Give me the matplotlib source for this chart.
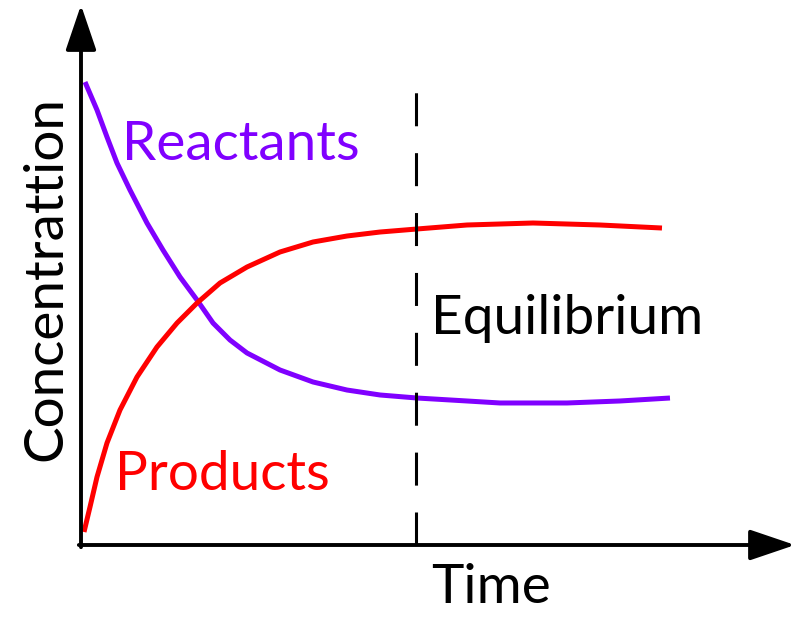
import matplotlib
matplotlib.use("Agg")
import matplotlib.pyplot as plt

# ---- data (time units, concentration units) ----
reactant_t = [0.056, 0.224, 0.364, 0.504, 0.686, 0.924, 1.148, 1.387, 1.625, 1.849, 2.087,
              2.325, 2.787, 3.249, 3.725, 4.188, 4.706, 5.406, 5.868, 6.807, 7.549, 8.249]
reactant_c = [8.574, 8.056, 7.556, 7.074, 6.574, 5.963, 5.463, 4.963, 4.537, 4.111, 3.796,
              3.556, 3.241, 3.019, 2.870, 2.778, 2.722, 2.667, 2.630, 2.630, 2.667, 2.722]

product_t = [0.042, 0.126, 0.224, 0.364, 0.546, 0.784, 1.064, 1.345, 1.625, 1.947, 2.325,
             2.787, 3.249, 3.725, 4.188, 4.706, 5.406, 6.331, 7.269, 8.137]
product_c = [0.241, 0.704, 1.259, 1.889, 2.500, 3.111, 3.667, 4.111, 4.481, 4.852, 5.148,
             5.426, 5.611, 5.722, 5.796, 5.852, 5.926, 5.963, 5.926, 5.870]

equilibrium_t = 4.69
equilibrium_top = 8.43

labels = {"reactants": "Reactants", "products": "Products",
          "equilibrium": "Equilibrium", "x": "Time", "y": "Concentrattion"}

PURPLE = "#8000ff"
RED = "#ff0000"
FONT = "Lato"

fig = plt.figure(figsize=(7.98, 6.42), dpi=100)
ax = fig.add_axes([81 / 798, 97 / 642, 717 / 798, 545 / 642])
ax.set_xlim(0, 717 / 71.4)
ax.set_ylim(0, 545 / 54)
ax.axis("off")

ax.plot(reactant_t, reactant_c, color=PURPLE, lw=3.6, solid_capstyle="butt",
        solid_joinstyle="round", clip_on=False)
ax.plot(product_t, product_c, color=RED, lw=3.6, solid_capstyle="butt",
        solid_joinstyle="round", clip_on=False)

ax.plot([equilibrium_t, equilibrium_t], [0, equilibrium_top], color="black",
        lw=2.2, linestyle=(0, (10.8, 8.8)), clip_on=False)

# axes with arrowheads
arrow = dict(arrowstyle="-|>,head_length=28,head_width=9.5", lw=2.8, color="black",
             shrinkA=0, shrinkB=0, mutation_scale=1)
ax.annotate("", xy=(10.0, 0), xytext=(-0.03, 0), arrowprops=arrow, annotation_clip=False)
ax.annotate("", xy=(0, 10.0), xytext=(0, -0.04), arrowprops=arrow, annotation_clip=False)

fs = 39.5
ax.text(0.57, 7.13, labels["reactants"], color=PURPLE, fontsize=fs, family=FONT,
        ha="left", va="baseline")
ax.text(0.48, 1.02, labels["products"], color=RED, fontsize=fs, family=FONT,
        ha="left", va="baseline")
ax.text(4.90, 3.91, labels["equilibrium"], color="black", fontsize=fs, family=FONT,
        ha="left", va="baseline")
ax.text(4.91, -1.07, labels["x"], color="black", fontsize=fs, family=FONT,
        ha="left", va="baseline")
ax.text(-0.27, 4.94, labels["y"], color="black", fontsize=fs, family=FONT,
        ha="center", va="baseline", rotation=90, rotation_mode="anchor")

fig.savefig("out.png", dpi=100, facecolor="white")
